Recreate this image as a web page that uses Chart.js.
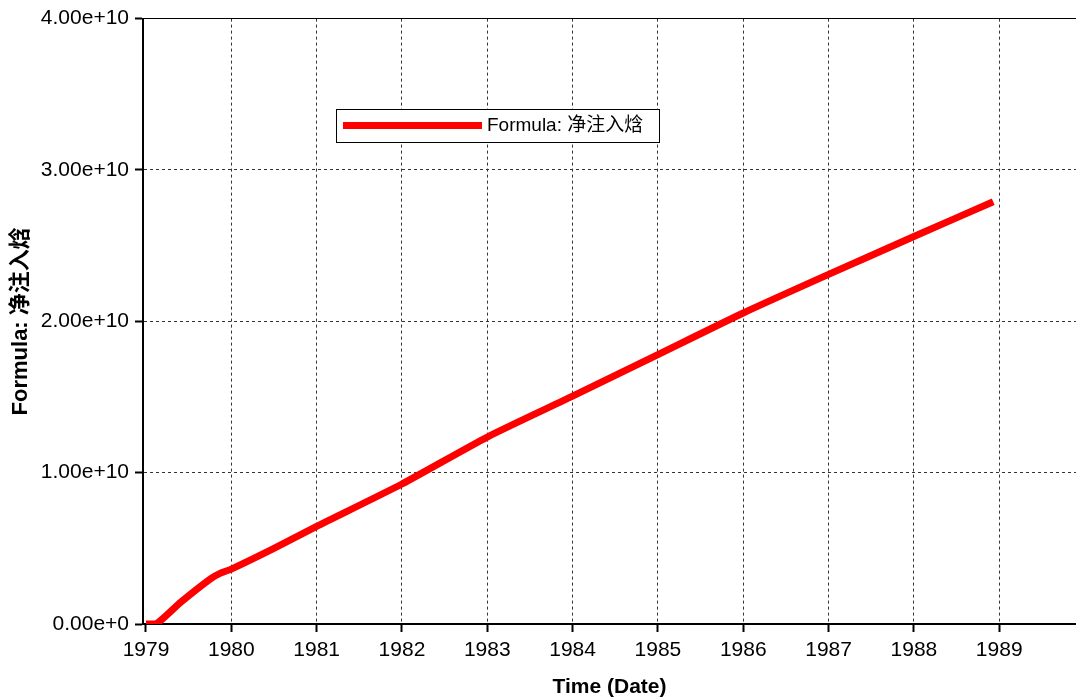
<!DOCTYPE html>
<html lang="zh">
<head>
    <meta charset="UTF-8">
    <title>Formula: 净注入焓</title>
    <script src="https://cdn.jsdelivr.net/npm/chart.js"></script>
    <style>
        body { margin: 0; background: #fff; }
        #wrap { width: 1076px; height: 700px; }
    </style>
</head>
<body>
    <div id="wrap"><canvas id="enthalpyChart"></canvas></div>

    <script>
        // values
        const timeYears = [1979.0, 1979.12, 1979.41, 1979.76, 1979.88, 1980.0, 1980.5, 1981, 1982, 1983, 1984, 1985, 1986, 1987, 1988, 1988.93];
        const netEnthalpy = [0, 0, 1.45e9, 3.0e9, 3.38e9, 3.63e9, 5.0e9, 6.45e9, 9.25e9, 12.35e9, 15.05e9, 17.8e9, 20.55e9, 23.1e9, 25.6e9, 27.9e9];
        const yearTicks = [1979, 1980, 1981, 1982, 1983, 1984, 1985, 1986, 1987, 1988, 1989];
        const seriesLabel = 'Formula: 净注入焓';

        const fontFamily = '"Liberation Sans", Arial, "Noto Sans CJK SC", sans-serif';

        // legend box sits inside the plot, like the original
        const boxLegend = {
            id: 'boxLegend',
            afterDatasetsDraw(chart) {
                const ds = chart.data.datasets[0];
                const c = chart.ctx;
                c.save();
                c.fillStyle = '#fff';
                c.fillRect(336, 109, 323, 33);
                c.strokeStyle = '#000';
                c.lineWidth = 1;
                c.strokeRect(336.5, 109.5, 323, 33);
                c.strokeStyle = ds.borderColor;
                c.lineWidth = 7;
                c.beginPath();
                c.moveTo(343, 125.5);
                c.lineTo(482, 125.5);
                c.stroke();
                c.fillStyle = '#000';
                c.font = '19px ' + fontFamily;
                c.textBaseline = 'middle';
                c.fillText(ds.label, 487, 126);
                c.restore();
            }
        };

        const ctx = document.getElementById('enthalpyChart').getContext('2d');
        const enthalpyChart = new Chart(ctx, {
            type: 'line',
            data: {
                datasets: [{
                    label: seriesLabel,
                    data: timeYears.map((t, i) => ({ x: t, y: netEnthalpy[i] })),
                    borderColor: '#ff0000',
                    borderWidth: 7,
                    pointRadius: 0,
                    tension: 0.2,
                    fill: false
                }]
            },
            options: {
                responsive: true,
                maintainAspectRatio: false,
                animation: false,
                layout: { padding: { top: 16, right: 0, left: 0, bottom: 0 } },
                plugins: {
                    legend: { display: false },
                    tooltip: { enabled: false }
                },
                scales: {
                    x: {
                        type: 'linear',
                        min: 1978.965,
                        max: 1989.9,
                        afterBuildTicks: scale => { scale.ticks = yearTicks.map(v => ({ value: v })); },
                        afterFit: scale => { scale.height = 76; },
                        ticks: {
                            color: '#000',
                            padding: 6,
                            maxRotation: 0,
                            font: { family: fontFamily, size: 21 },
                            callback: v => String(v)
                        },
                        grid: {
                            color: c2 => c2.tick && c2.tick.value === 1979 ? 'rgba(0,0,0,0)' : '#333',
                            lineWidth: 1,
                            tickLength: 8,
                            tickColor: '#000',
                            tickWidth: 2,
                            tickBorderDash: []
                        },
                        border: { color: '#000', width: 2, dash: [3, 3] },
                        title: {
                            display: true,
                            text: 'Time (Date)',
                            color: '#000',
                            padding: { top: 4, bottom: 0 },
                            font: { family: fontFamily, size: 21, weight: 'bold' }
                        }
                    },
                    y: {
                        min: 0,
                        max: 4e10,
                        afterFit: scale => { scale.width = 143; },
                        ticks: {
                            stepSize: 1e10,
                            color: '#000',
                            padding: 6,
                            font: { family: fontFamily, size: 21 },
                            callback: v => v.toExponential(2)
                        },
                        grid: {
                            color: c2 => c2.tick && c2.tick.value === 4e10 ? '#000' : '#333',
                            lineWidth: 1,
                            tickLength: 8,
                            tickColor: '#000',
                            tickWidth: 2,
                            tickBorderDash: []
                        },
                        border: {
                            color: '#000',
                            width: 2,
                            dash: c2 => c2.tick && c2.tick.value === 4e10 ? [] : [3, 3]
                        },
                        title: {
                            display: true,
                            text: seriesLabel,
                            color: '#000',
                            padding: { top: 8, bottom: 6 },
                            font: { family: fontFamily, size: 22, weight: 'bold' }
                        }
                    }
                }
            },
            plugins: [boxLegend]
        });
    </script>
</body>
</html>
